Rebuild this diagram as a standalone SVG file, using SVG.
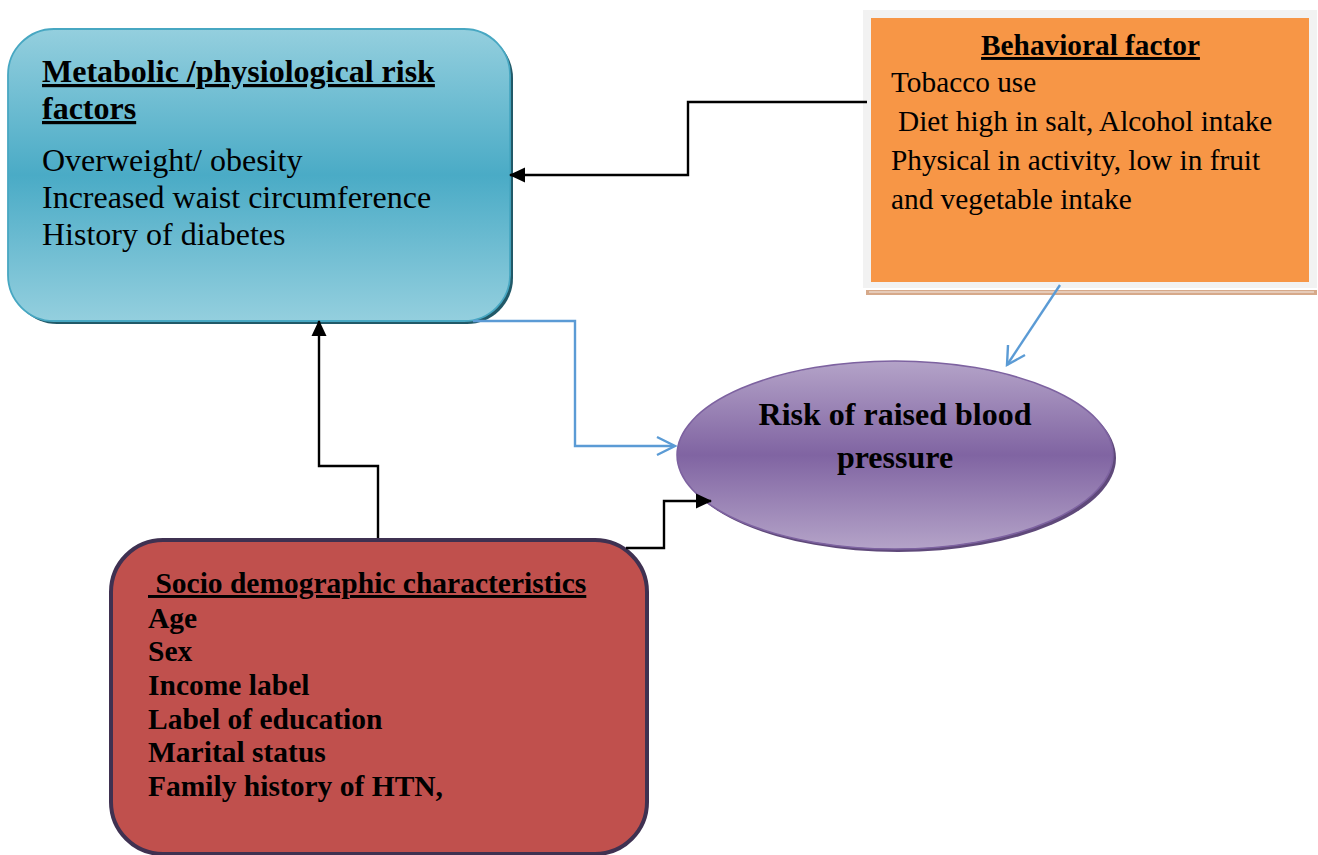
<svg xmlns="http://www.w3.org/2000/svg" width="1318" height="855" viewBox="0 0 1318 855">
  <style>
    .serif { font-family: "Liberation Serif", "Times New Roman", serif; fill: #000; }
    .b { font-weight: bold; }
    .u { text-decoration: underline; }
    .blk { fill: none; stroke: #000; stroke-width: 2.4; }
    .blu { fill: none; stroke: #5b9bd5; stroke-width: 2.4; }
  </style>
  <defs>
    <linearGradient id="gBlue" x1="0" y1="0" x2="0" y2="1">
      <stop offset="0" stop-color="#94cfde"/>
      <stop offset="0.5" stop-color="#4aabc6"/>
      <stop offset="1" stop-color="#94cfde"/>
    </linearGradient>
    <linearGradient id="gPurple" x1="0" y1="0" x2="0" y2="1">
      <stop offset="0" stop-color="#b4a3c8"/>
      <stop offset="0.5" stop-color="#8064a2"/>
      <stop offset="1" stop-color="#b4a3c8"/>
    </linearGradient>
    <marker id="arrBlack" viewBox="0 0 16 16" refX="15" refY="8" markerWidth="16" markerHeight="16" markerUnits="userSpaceOnUse" orient="auto">
      <path d="M0,0.5 L16,8 L0,15.5 Z" fill="#000"/>
    </marker>
  </defs>

  <g id="node-metabolic">
    <rect x="11" y="32" width="502" height="292" rx="46" fill="#215968"/>
    <rect x="8" y="29" width="502" height="292" rx="46" fill="url(#gBlue)" stroke="#47a7c2" stroke-width="1.8"/>
    <text class="serif b u" x="42" y="82" font-size="32">Metabolic /physiological risk</text>
    <text class="serif b u" x="42" y="119" font-size="32">factors</text>
    <text class="serif" x="42" y="171" font-size="32">Overweight/ obesity</text>
    <text class="serif" x="42" y="208" font-size="32">Increased waist circumference</text>
    <text class="serif" x="42" y="245" font-size="32">History of diabetes</text>
  </g>

  <g id="node-behavioral">
    <rect x="866" y="290" width="451" height="5" fill="#d6a98a"/>
    <line x1="869" y1="292" x2="1314" y2="292" stroke="#ffffff" stroke-width="0.8"/>
    <rect x="863" y="10" width="454" height="278" fill="#f2f2f2"/>
    <rect x="871" y="18" width="438" height="264" fill="#f79646"/>
    <text class="serif b u" x="1090.5" y="55" font-size="29.3" text-anchor="middle">Behavioral factor</text>
    <text class="serif" x="891" y="92" font-size="29.3">Tobacco use</text>
    <text class="serif" x="898" y="131" font-size="29.3">Diet high in salt, Alcohol intake</text>
    <text class="serif" x="891" y="170" font-size="29.3">Physical in activity, low in fruit</text>
    <text class="serif" x="891" y="209" font-size="29.3">and vegetable intake</text>
  </g>

  <g id="node-risk">
    <ellipse cx="898" cy="458" rx="218" ry="94" fill="#5f497a"/>
    <ellipse cx="895" cy="455" rx="218" ry="94" fill="url(#gPurple)" stroke="#7d62a0" stroke-width="1.5"/>
    <text class="serif b" x="895" y="425" font-size="32" text-anchor="middle">Risk of raised blood</text>
    <text class="serif b" x="895" y="468" font-size="32" text-anchor="middle">pressure</text>
  </g>

  <g id="node-socio">
    <rect x="111" y="540" width="536" height="314" rx="52" fill="#c0504d" stroke="#3f3151" stroke-width="4"/>
    <text class="serif b u" x="148" y="593" font-size="29.5" xml:space="preserve"> Socio demographic characteristics</text>
    <text class="serif b" x="148" y="628" font-size="29.5">Age</text>
    <text class="serif b" x="148" y="661" font-size="29.5">Sex</text>
    <text class="serif b" x="148" y="695" font-size="29.5">Income label</text>
    <text class="serif b" x="148" y="729" font-size="29.5">Label of education</text>
    <text class="serif b" x="148" y="762" font-size="29.5">Marital status</text>
    <text class="serif b" x="148" y="796" font-size="29.5">Family history of HTN,</text>
  </g>

  <g id="connectors">
    <path class="blk" d="M867,102 H688 V175 H510" marker-end="url(#arrBlack)"/>
    <path class="blk" d="M378,538 V466 H319 V321" marker-end="url(#arrBlack)"/>
    <path class="blk" d="M626,548 H664 V501 H711" marker-end="url(#arrBlack)"/>
    <path class="blu" d="M473,321 H575 V446 H674"/>
    <path class="blu" d="M657,437 L675,446 L657,455"/>
    <path class="blu" d="M1060,285 L1007,365"/>
    <path class="blu" d="M1008,345 L1007,365 L1025,355"/>
  </g>
</svg>
